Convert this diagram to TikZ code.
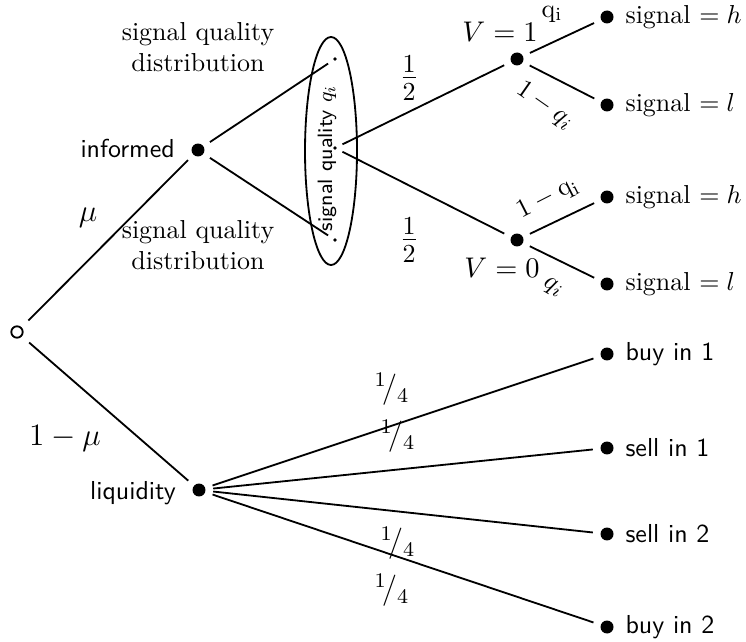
\documentclass[tikz,border=0pt]{standalone}
\usetikzlibrary{shapes.geometric}
\begin{document}
\begin{tikzpicture}[x=0.385pt,y=-0.385pt,
  bigdot/.style={circle,fill,inner sep=0pt,minimum size=5pt,outer sep=3pt},
  tinydot/.style={circle,fill,inner sep=0pt,minimum size=1.4pt,outer sep=2.5pt},
  rootdot/.style={circle,draw,line width=0.7pt,inner sep=0pt,minimum size=4.4pt,outer sep=4pt},
  branch/.style={line width=0.7pt},
  sflab/.style={font=\sffamily},
  leaf/.style={anchor=west,inner sep=0pt}]
\useasboundingbox (0,0) rectangle (746,642);
% nodes
\node[rootdot] (root) at (17,332) {};
\node[bigdot] (inf) at (198,150) {};
\node[bigdot] (liq) at (199,490) {};
\node[tinydot] (qt) at (335,59) {};
\node[tinydot] (qm) at (335,148) {};
\node[tinydot] (qb) at (335,240) {};
\node[bigdot] (v1) at (517,59) {};
\node[bigdot] (v0) at (517,240) {};
\node[bigdot] (s1h) at (607,17) {};
\node[bigdot] (s1l) at (607,105) {};
\node[bigdot] (s0h) at (607,197) {};
\node[bigdot] (s0l) at (607,284) {};
\node[bigdot] (b1) at (607,354) {};
\node[bigdot] (se1) at (607,448) {};
\node[bigdot] (se2) at (607,534) {};
\node[bigdot] (b2) at (607,627) {};
% ellipse
\draw[line width=0.7pt] (331,151) ellipse [x radius=26, y radius=114];
\node[rotate=90,font=\sffamily\footnotesize] (sq) at (327,158) {signal quality $q_i$};
% edges
\draw[branch] (root) -- (inf);
\draw[branch] (root) -- (liq);
\draw[branch] (inf) -- (qt);
\draw[branch] (inf) -- (qb);
\draw[branch] (qm) -- (v1);
\draw[branch] (qm) -- (v0);
\draw[branch] (v1) -- (s1h);
\draw[branch] (v1) -- (s1l);
\draw[branch] (v0) -- (s0h);
\draw[branch] (v0) -- (s0l);
\draw[branch] (liq) -- (b1);
\draw[branch] (liq) -- (se1);
\draw[branch] (liq) -- (se2);
\draw[branch] (liq) -- (b2);
% node labels
\node[sflab,anchor=east] (linf) at (184,148) {informed};
\node[sflab,anchor=east] (lliq) at (185,493) {liquidity};
\node[align=center] (sqd1) at (198,47) {signal quality\\distribution};
\node[align=center] (sqd2) at (198,245) {signal quality\\distribution};
\node[leaf] (t1) at (625,17) {signal $= h$};
\node[leaf] (t2) at (625,105) {signal $= l$};
\node[leaf] (t3) at (625,197) {signal $= h$};
\node[leaf] (t4) at (625,284) {signal $= l$};
\node[leaf,sflab] (t5) at (625,354) {buy in 1};
\node[leaf,sflab] (t6) at (625,448) {sell in 1};
\node[leaf,sflab] (t7) at (625,534) {sell in 2};
\node[leaf,sflab] (t8) at (625,627) {buy in 2};
% probabilities
\node[font=\large] (mu) at (88,218) {$\mu$};
\node[font=\large] (omu) at (65,438) {$1-\mu$};
\node[font=\Large] (h1) at (409,78) {$\frac{1}{2}$};
\node[font=\Large] (h2) at (409,240) {$\frac{1}{2}$};
\node[font=\fontsize{11}{13}\selectfont] (lv1) at (500,32) {$V=1$};
\node[font=\fontsize{11}{13}\selectfont] (lv0) at (502,268) {$V=0$};
\node (q1) at (552,14) {$\mathrm{q_i}$};
\node[rotate=-35] (q2) at (545,106) {$1-q_i$};
\node[rotate=27] (q3) at (548,198) {$1-\mathrm{q_i}$};
\node[rotate=-30] (q4) at (553,288) {$q_i$};
\node[font=\large] (f1) at (392,389) {$^1\!/_4$};
\node[font=\large] (f2) at (398,436) {$^1\!/_4$};
\node[font=\large] (f3) at (398,543) {$^1\!/_4$};
\node[font=\large] (f4) at (392,590) {$^1\!/_4$};
\end{tikzpicture}
\end{document}
